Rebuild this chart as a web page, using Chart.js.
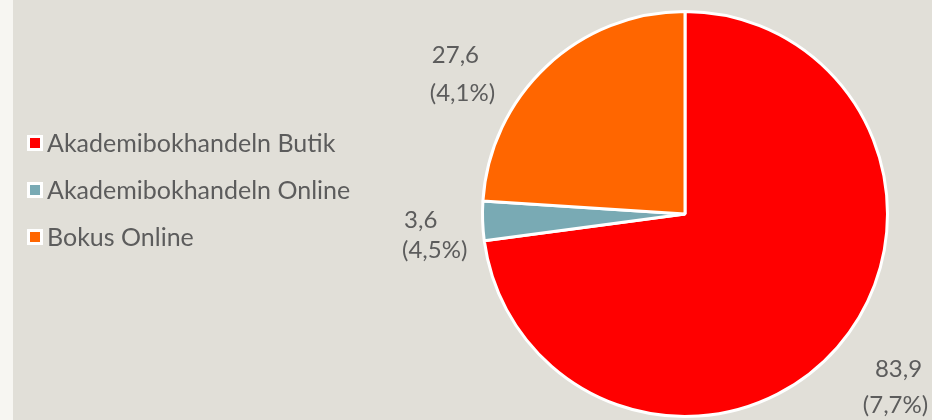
<!DOCTYPE html>
<html><head><meta charset="utf-8">
<script src="https://cdn.jsdelivr.net/npm/chart.js@4"></script>
<style>
html,body{margin:0;padding:0;background:#f7f6f2;}
#wrap{position:absolute;left:13px;top:0;width:919px;height:420px;background:#e1dfd8;}
</style></head><body>
<div id="wrap"><canvas id="c" width="919" height="420"></canvas></div>
<script>
const categories = ["Akademibokhandeln Butik", "Akademibokhandeln Online", "Bokus Online"];
const values = [83.9, 3.6, 27.6];
const valueLabels = ["83,9", "3,6", "27,6"];
const changeLabels = ["(7,7%)", "(4,5%)", "(4,1%)"];
const colors = ["#ff0000", "#79aab4", "#ff6600"];

const FONT = "Lato, 'Open Sans', sans-serif";
const TXT = "#5c5c5c";

const customDraw = {
  id: 'customDraw',
  afterDraw(chart, args, opts) {
    const ctx = chart.ctx;
    ctx.save();
    // legend
    ctx.font = "25px " + FONT;
    ctx.textBaseline = "middle";
    ctx.textAlign = "left";
    categories.forEach((c, i) => {
      const y = opts.legendTop + i * opts.legendGap;
      ctx.fillStyle = "#ffffff";
      ctx.fillRect(opts.legendX, y - 8, 16, 16);
      ctx.fillStyle = colors[i];
      ctx.fillRect(opts.legendX + 3, y - 5, 10, 10);
      ctx.fillStyle = TXT;
      ctx.fillText(c, opts.legendX + 20, y + 1);
    });
    // data labels anchored at slice mid-angle outside the pie
    const meta = chart.getDatasetMeta(0);
    ctx.font = "24px " + FONT;
    ctx.textAlign = "center";
    meta.data.forEach((arc, i) => {
      const p = arc.getProps(['x','y','startAngle','endAngle','outerRadius'], true);
      const mid = (p.startAngle + p.endAngle) / 2;
      const r = p.outerRadius + 60;
      const ax = p.x + Math.cos(mid) * r;
      const ay = p.y + Math.sin(mid) * r;
      const o = opts.offsets[i];
      ctx.fillStyle = TXT;
      ctx.fillText(valueLabels[i], ax + o[0], ay + o[1]);
      ctx.fillText(changeLabels[i], ax + o[2], ay + o[3]);
    });
    ctx.restore();
  }
};

new Chart(document.getElementById('c'), {
  type: 'pie',
  data: {
    labels: categories,
    datasets: [{
      data: values,
      backgroundColor: colors,
      borderColor: "#ffffff",
      borderWidth: 3
    }]
  },
  options: {
    responsive: false,
    animation: false,
    layout: { padding: { left: 425, right: 0, top: 10, bottom: 2 } },
    plugins: {
      legend: { display: false },
      tooltip: { enabled: false },
      customDraw: {
        legendX: 14, legendTop: 143, legendGap: 47,
        offsets: [[16, -18, 13, 18], [-2, -3, 12, 27], [-50, 33, -43, 71]]
      }
    }
  },
  plugins: [customDraw]
});
</script>
</body></html>
